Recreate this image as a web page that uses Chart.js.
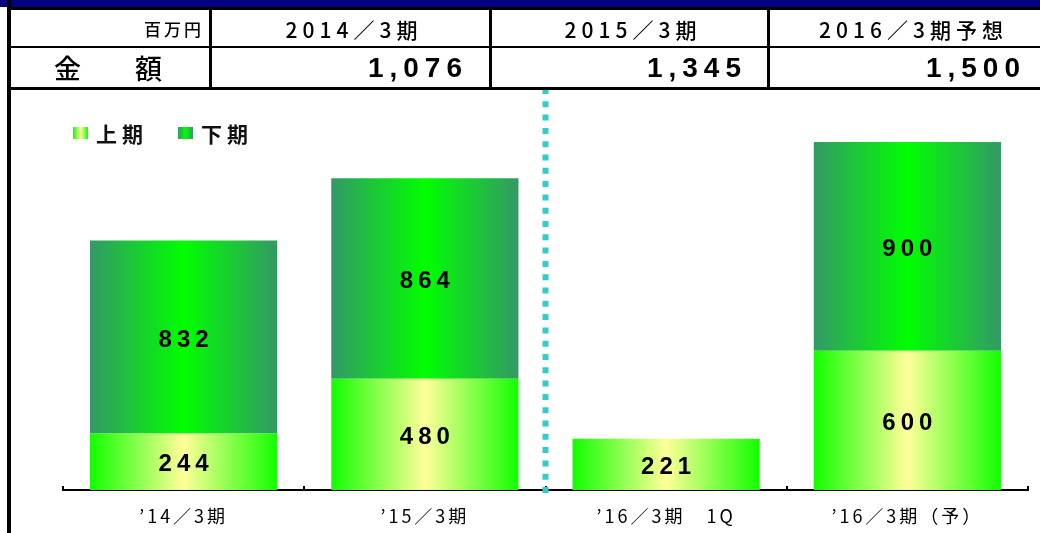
<!DOCTYPE html>
<html>
<head>
<meta charset="utf-8">
<script src="https://cdn.jsdelivr.net/npm/chart.js@4"></script>
<style>
  html, body { margin:0; padding:0; background:#fff; }
  #wrap { position:relative; width:1040px; height:533px; overflow:hidden; }
  #chart { position:absolute; left:0; top:0; }
  .ln { position:absolute; background:#000; }
  .tx { position:absolute; white-space:nowrap; color:#000; font-family:"Noto Sans CJK JP", sans-serif; }
  .num { font-family:"Liberation Sans", Arial, sans-serif; font-weight:bold; font-size:28px; letter-spacing:6px; }
</style>
</head>
<body>
<div id="wrap">
  <canvas id="chart" width="1040" height="533"></canvas>
  <div id="table"></div>
</div>
<script>
// ====== data ======
let categories = ["’14／3期", "’15／3期", "’16／3期　1Q", "’16／3期（予）"];
let firstHalf = [244, 480, 221, 600];   // 上期
let secondHalf = [832, 864, null, 900]; // 下期
let seriesNames = ["上期", "下期"];

let tableHeads = ["2014／3期", "2015／3期", "2016／3期予想"];
let tableValues = ["1,076", "1,345", "1,500"];

// ====== table on top ======
let table = document.getElementById("table");
function addDiv(cls, style, text) {
  let d = document.createElement("div");
  d.className = cls;
  d.style.cssText = style;
  if (text) d.textContent = text;
  table.appendChild(d);
}
addDiv("ln", "left:0;top:0;width:1040px;height:7px;background:#000080");
addDiv("ln", "left:7px;top:7px;width:1033px;height:3px");
addDiv("ln", "left:7px;top:46px;width:1033px;height:2px");
addDiv("ln", "left:7px;top:87px;width:1033px;height:3px");
addDiv("ln", "left:7px;top:0;width:4px;height:533px");
let colX = [209, 489, 767];
colX.forEach(x => addDiv("ln", `left:${x}px;top:8px;width:3px;height:81px`));

addDiv("tx", "right:836px;top:16px;font-size:17px;line-height:26px;letter-spacing:3px;font-weight:500", "百万円");
addDiv("tx", "left:54px;top:51px;font-size:27px;line-height:34px;font-weight:500", "金");
addDiv("tx", "left:135px;top:51px;font-size:27px;line-height:34px;font-weight:500", "額");
let colEdges = [211, 491, 769, 1052];
tableHeads.forEach((h, i) => {
  let l = colEdges[i], w = colEdges[i + 1] - l;
  addDiv("tx", `left:${l + 3}px;width:${w}px;text-align:center;top:14px;font-size:21px;line-height:30px;letter-spacing:5px;font-weight:500`, h);
});
let valRight = [462, 741, 1020];
tableValues.forEach((v, i) => {
  addDiv("tx num", `right:${1040 - valRight[i] - 6}px;top:51px;line-height:34px`, v);
});

// ====== chart ======
let barPct = 0.776;

function barGradient(ctx, stops, fallback) {
  let chart = ctx.chart;
  if (!chart.chartArea || ctx.dataIndex === undefined) return fallback;
  let xs = chart.scales.x;
  let cx = xs.getPixelForValue(ctx.dataIndex);
  let w = xs.width / categories.length * barPct;
  let g = chart.ctx.createLinearGradient(cx - w / 2, 0, cx + w / 2, 0);
  stops.forEach(s => g.addColorStop(s[0], s[1]));
  return g;
}
let lowStops = [[0, "#11ff00"], [0.5, "#ffff99"], [1, "#11ff00"]];
let highStops = [[0, "#339966"], [0.5, "#00ff00"], [1, "#339966"]];

// value labels, legend, ticks and divider line
let extrasPlugin = {
  id: "extras",
  beforeDraw(chart) {
    // wider spacing for the axis labels (axes are drawn before datasets)
    chart.ctx.letterSpacing = "3px";
  },
  beforeDatasetsDraw(chart) {
    chart.ctx.letterSpacing = "0px";
  },
  afterDatasetsDraw(chart) {
    let c = chart.ctx;
    c.save();
    c.font = "bold 24px 'Liberation Sans', Arial, sans-serif";
    c.fillStyle = "#000";
    c.textAlign = "center";
    c.textBaseline = "middle";
    c.letterSpacing = "5px";
    chart.data.datasets.forEach((ds, di) => {
      chart.getDatasetMeta(di).data.forEach((el, i) => {
        let v = ds.data[i];
        if (v == null) return;
        c.fillText(String(v), el.x + 2.5, (el.y + el.base) / 2 + 3);
      });
    });
    c.restore();
  },
  afterDraw(chart) {
    let c = chart.ctx;
    let xs = chart.scales.x;
    let bottom = chart.chartArea.bottom;
    c.save();
    // small ticks at category boundaries
    c.strokeStyle = "#000";
    c.lineWidth = 2;
    for (let i = 0; i <= categories.length; i++) {
      let x = Math.round(xs.getPixelForValue(i - 0.5));
      c.beginPath();
      c.moveTo(x, bottom - 4);
      c.lineTo(x, bottom);
      c.stroke();
    }
    // dotted divider between actual years and current year
    let dx = xs.getPixelForValue(1.5);
    c.strokeStyle = "#33cccc";
    c.lineWidth = 6;
    c.setLineDash([6, 7.3]);
    c.beginPath();
    c.moveTo(dx, 88);
    c.lineTo(dx, bottom + 4);
    c.stroke();
    c.setLineDash([]);
    // legend
    let lx = [73, 178];
    let stops = [lowStops, highStops];
    c.font = "bold 21px 'Noto Sans CJK JP', sans-serif";
    c.textBaseline = "middle";
    c.letterSpacing = "5px";
    seriesNames.forEach((n, i) => {
      let g = c.createLinearGradient(lx[i], 0, lx[i] + 15, 0);
      stops[i].forEach(s => g.addColorStop(s[0], s[1]));
      c.fillStyle = g;
      c.fillRect(lx[i], 127, 15, 12);
      c.fillStyle = "#111";
      c.fillText(n, lx[i] + 23, 134);
    });
    c.restore();
  }
};

let chart = new Chart(document.getElementById("chart").getContext("2d"), {
  type: "bar",
  data: {
    labels: categories,
    datasets: [
      {
        label: seriesNames[0],
        data: firstHalf,
        backgroundColor: ctx => barGradient(ctx, lowStops, "#aaff55"),
        borderWidth: 0,
        barPercentage: barPct,
        categoryPercentage: 1
      },
      {
        label: seriesNames[1],
        data: secondHalf,
        backgroundColor: ctx => barGradient(ctx, highStops, "#22cc55"),
        borderWidth: 0,
        barPercentage: barPct,
        categoryPercentage: 1
      }
    ]
  },
  options: {
    responsive: false,
    animation: false,
    layout: { padding: { left: 63, right: 12, top: 110, bottom: 0 } },
    plugins: { legend: { display: false }, tooltip: { enabled: false } },
    scales: {
      x: {
        stacked: true,
        grid: { display: false, drawTicks: false },
        border: { display: true, color: "#000", width: 2 },
        ticks: {
          color: "#000",
          padding: 15,
          font: { family: "'Noto Sans CJK JP', sans-serif", size: 18 }
        },
        afterFit(s) { s.height = 43; }
      },
      y: {
        stacked: true,
        display: false,
        min: 0,
        max: 1638
      }
    }
  },
  plugins: [extrasPlugin]
});
</script>
</body>
</html>
